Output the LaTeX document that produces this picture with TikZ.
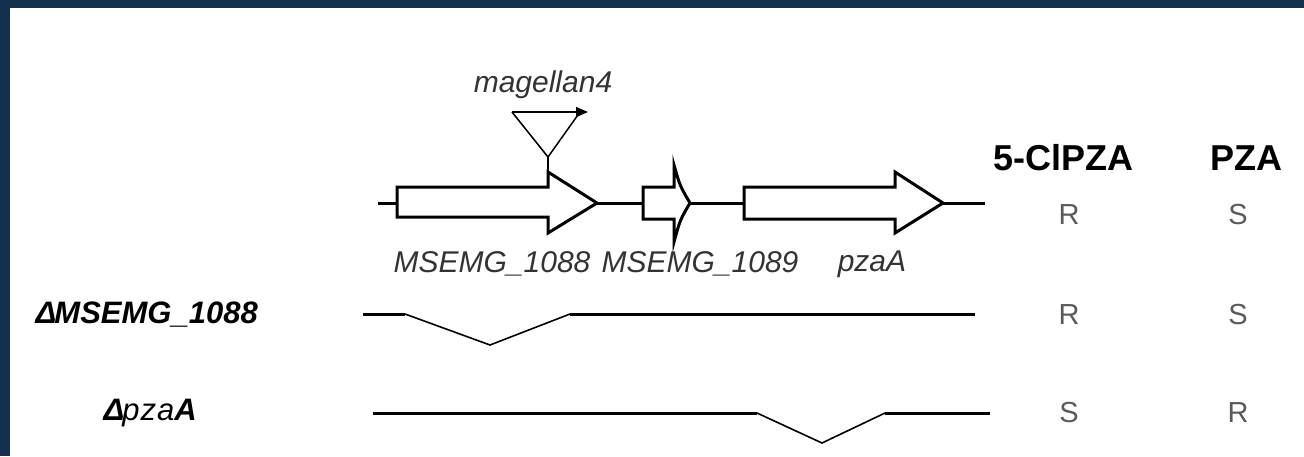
\documentclass[tikz,border=0pt]{standalone}
\usepackage{fontspec}
\setmainfont{Liberation Sans}
\usetikzlibrary{arrows.meta}
\definecolor{frame}{HTML}{14304F}
\definecolor{txtgray}{HTML}{333333}
\definecolor{rsgray}{HTML}{5A5A5A}
\tikzset{
  gene/.style={draw=black, line width=3pt, fill=white, line join=miter},
  chrom/.style={draw=black, line width=3pt},
  gap/.style={draw=black, line width=1.6pt},
  genelabel/.style={font=\fontsize{30}{34}\selectfont\itshape, text=txtgray, inner sep=0pt},
  strain/.style={font=\fontsize{31}{35}\selectfont\bfseries\itshape, inner sep=0pt},
  head/.style={font=\fontsize{36}{40}\selectfont\bfseries, inner sep=0pt},
  pheno/.style={font=\fontsize{29}{33}\selectfont, text=rsgray, inner sep=0pt},
}
\begin{document}
\begin{tikzpicture}[x=1pt,y=-1pt]
\useasboundingbox (0,0) rectangle (1304,456);
\fill[white] (0,0) rectangle (1304,456);
\fill[frame] (0,0) rectangle (1304,8);
\fill[frame] (0,0) rectangle (10,456);

% wild-type locus
\coordinate (l0) at (378,203);
\coordinate (g1s) at (397,203);
\coordinate (g1e) at (597,203);
\coordinate (g2s) at (643,203);
\coordinate (g2e) at (690,203);
\coordinate (g3s) at (744,203);
\coordinate (g3e) at (943,203);
\coordinate (l1) at (985,203);
\draw[chrom] (l0) -- (g1s);
\draw[chrom] (g1e) -- (g2s);
\draw[chrom] (g2e) -- (g3s);
\draw[chrom] (g3e) -- (l1);
\draw[gene] (397,187) -- (548,187) -- (548,172) -- (g1e) -- (548,233) -- (548,217) -- (397,217) -- cycle;
\draw[gene] (643,187) -- (674,187) -- (674,165) .. controls (680,186) .. (g2e)
  .. controls (680,220) .. (674,242) -- (674,219) -- (643,219) -- cycle;
\draw[gene] (744,187) -- (895,187) -- (895,172) -- (g3e) -- (895,233) -- (895,219) -- (744,219) -- cycle;

% transposon insertion
\coordinate (tl) at (512,112);
\coordinate (tr) at (588,112);
\coordinate (tc) at (580,112);
\coordinate (tap) at (548,157);
\coordinate (tin) at (548,172);
\draw[line width=1.5pt] (tc) -- (tap) -- (tl);
\draw[line width=1.5pt, -{Triangle[length=12pt,width=10pt]}] (tl) -- (tr);
\draw[line width=2.5pt] (tap) -- (tin);
\node[genelabel] (mag) at (543,85) {magellan4};

\node[genelabel] (lab1) at (492,264) {MSEMG\_1088};
\node[genelabel] (lab2) at (700,264) {MSEMG\_1089};
\node[genelabel] (lab3) at (872,264) {pzaA};

% deletion mutants
\node[strain, anchor=east] (d1) at (258,315) {Δ\kern-2pt MSEMG\_1088};
\node[strain, anchor=east] (d2) at (197,413) {\bfseries\itshape Δ\kern-2pt\mdseries p\kern1pt z\kern1pt a\bfseries A};

\coordinate (a0) at (363,314);
\coordinate (a1) at (405,314);
\coordinate (a2) at (490,345);
\coordinate (a3) at (570,314);
\coordinate (a4) at (975,314);
\draw[chrom] (a0) -- (a1);
\draw[gap] (a1) -- (a2) -- (a3);
\draw[chrom] (a3) -- (a4);

\coordinate (b0) at (373,413);
\coordinate (b1) at (757,413);
\coordinate (b2) at (822,443);
\coordinate (b3) at (885,413);
\coordinate (b4) at (990,413);
\draw[chrom] (b0) -- (b1);
\draw[gap] (b1) -- (b2) -- (b3);
\draw[chrom] (b3) -- (b4);

% susceptibility table
\node[head] (h1) at (1063,158) {5-ClPZA};
\node[head] (h2) at (1246,158) {PZA};
\node[pheno] (r11) at (1069,215) {R};
\node[pheno] (r12) at (1238,215) {S};
\node[pheno] (r21) at (1069,315) {R};
\node[pheno] (r22) at (1238,315) {S};
\node[pheno] (r31) at (1069,413) {S};
\node[pheno] (r32) at (1238,413) {R};
\end{tikzpicture}
\end{document}
